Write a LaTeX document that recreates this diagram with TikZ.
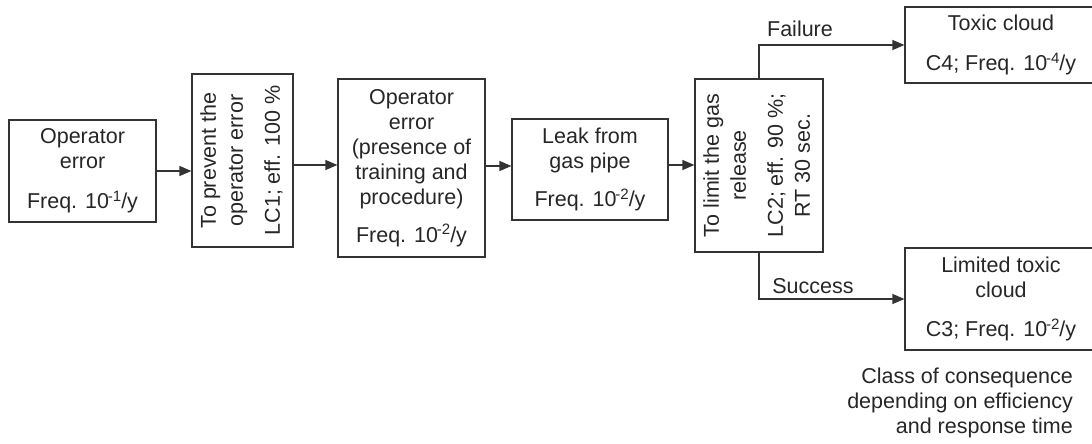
\documentclass[tikz,border=0pt]{standalone}
\usepackage{fontspec}
\setmainfont{Liberation Sans}
\usetikzlibrary{arrows.meta}
\newcommand\diagfont{\fontsize{21.5}{25}\selectfont}
\newcommand\pexp[1]{\kern-1.2pt\textsuperscript{#1}\kern-0.5pt}
\begin{document}
\begin{tikzpicture}[x=1pt,y=-1pt,
  box/.style={draw=black!80, line width=1.2pt, inner sep=0pt, align=center,
    font=\diagfont, text=black!85},
  flow/.style={draw=black!80, line width=1.2pt, -{Triangle[length=12pt,width=10pt]}},
  lbl/.style={font=\diagfont, inner sep=0pt, text=black!85}]
\useasboundingbox (0,0) rectangle (1092,444);

% chain of events and barriers
\node[box, minimum width=147pt, minimum height=102pt] (opErr) at (82.5,171)
  {Operator\\error\\[15pt]Freq. 10\pexp{-1}/y};
\node[box, minimum width=101pt, minimum height=173pt] (lc1) at (242.5,160.5)
  {\rotatebox{90}{\def\arraystretch{1.08}\begin{tabular}{@{}c@{}}To prevent the\\operator error\\[10pt]LC1; eff. 100 \%\end{tabular}}};
\node[box, minimum width=147pt, minimum height=178pt] (opTrain) at (411.5,168)
  {Operator\\error\\(presence of\\training and\\procedure)\\[13pt]Freq. 10\pexp{-2}/y};
\node[box, minimum width=156pt, minimum height=101pt] (leak) at (590,169.5)
  {Leak from\\gas pipe\\[13pt]Freq. 10\pexp{-2}/y};
\node[box, minimum width=128pt, minimum height=173pt] (lc2) at (759,165.5)
  {\rotatebox{90}{\def\arraystretch{1.08}\begin{tabular}{@{}c@{}}To limit the gas\\release\\[10pt]LC2; eff. 90 \%;\\RT 30 sec.\end{tabular}}};

% consequences
\node[box, minimum width=192pt, minimum height=76pt] (toxic) at (1001,45)
  {Toxic cloud\\[15pt]C4; Freq. 10\pexp{-4}/y};
\node[box, minimum width=192pt, minimum height=102pt] (limited) at (1001,299)
  {Limited toxic\\cloud\\[14pt]C3; Freq. 10\pexp{-2}/y};

\node[lbl, align=right, anchor=east] (note) at (1073,403)
  {Class of consequence\\depending on efficiency\\and response time};

% branch labels
\node[lbl] (fail) at (800,29) {Failure};
\node[lbl] (succ) at (813,286) {Success};

% connectors
\draw[flow] (opErr.east) -- (opErr.east -| lc1.west);
\coordinate (p1) at ([yshift=-4.5pt]lc1.east);
\draw[flow] (p1) -- (p1 -| opTrain.west);
\coordinate (p2) at ([yshift=2pt]opTrain.east);
\draw[flow] (p2) -- (p2 -| leak.west);
\coordinate (p3) at ([yshift=4.5pt]leak.east);
\draw[flow] (p3) -- (p3 -| lc2.west);
\draw[flow] (lc2.north) |- (toxic.west);
\draw[flow] (lc2.south) |- (limited.west);
\end{tikzpicture}
\end{document}
